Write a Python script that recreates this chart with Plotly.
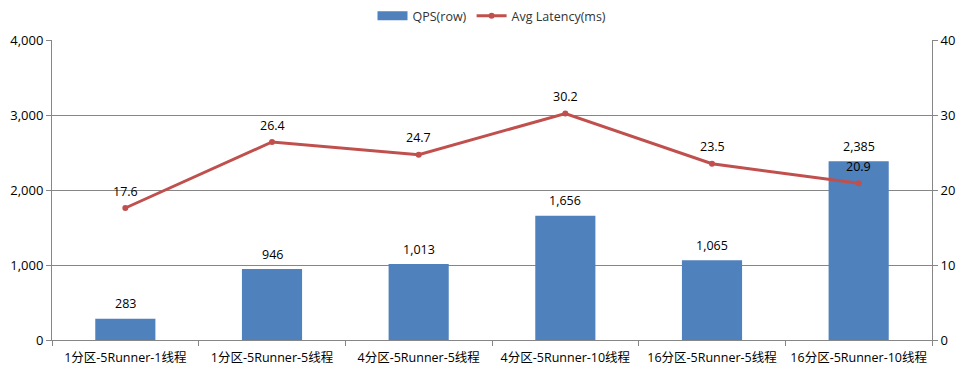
import plotly.graph_objects as go

categories = ["1分区-5Runner-1线程", "1分区-5Runner-5线程", "4分区-5Runner-5线程",
              "4分区-5Runner-10线程", "16分区-5Runner-5线程", "16分区-5Runner-10线程"]
qps = [283, 946, 1013, 1656, 1065, 2385]
latency = [17.6, 26.4, 24.7, 30.2, 23.5, 20.9]
left_ticks = [0, 1000, 2000, 3000, 4000]
right_ticks = [0, 10, 20, 30, 40]

font_family = "Open Sans, Noto Sans CJK SC, sans-serif"
bar_color = "#4F81BD"
line_color = "#C0504D"

fig = go.Figure()
fig.add_trace(go.Bar(
    x=categories, y=qps, name="QPS(row)", showlegend=False,
    marker=dict(color=bar_color, line=dict(width=0)),
))
# legend proxy for bar (wide rectangle swatch)
fig.add_trace(go.Scatter(
    x=[None], y=[None], name="QPS(row)", mode="lines",
    line=dict(color=bar_color, width=9),
))
fig.add_trace(go.Scatter(
    x=categories, y=latency, name="Avg Latency(ms)", yaxis="y2",
    mode="lines+markers",
    line=dict(color=line_color, width=3),
    marker=dict(color=line_color, size=6),
))

annotations = []
for c, v in zip(categories, qps):
    annotations.append(dict(x=c, y=v, xref="x", yref="y", text=f"{v:,}",
                            showarrow=False, yshift=15, yanchor="middle",
                            font=dict(size=12.5, color="#000000")))
for c, v in zip(categories, latency):
    annotations.append(dict(x=c, y=v, xref="x", yref="y2", text=f"{v}",
                            showarrow=False, yshift=17, yanchor="middle",
                            font=dict(size=12.5, color="#000000")))

fig.update_layout(
    width=979, height=374,
    margin=dict(l=44, r=55, t=32, b=42, autoexpand=False),
    paper_bgcolor="white", plot_bgcolor="white",
    font=dict(family=font_family, size=12.5, color="#000000"),
    bargap=0.59,
    showlegend=True,
    annotations=annotations,
    legend=dict(orientation="h", x=0.5, xanchor="center", y=1.03, yanchor="bottom",
                font=dict(size=12.5, color="#333333"), traceorder="normal"),
    xaxis=dict(
        type="category", showgrid=False, showline=True, linecolor="#868686", linewidth=1,
        ticks="outside", tickson="boundaries", ticklen=5, tickcolor="#868686",
        tickfont=dict(size=12.5, color="#000000"), automargin=False,
        ticklabelstandoff=6,
    ),
    yaxis=dict(
        range=[0, 4000], tickvals=left_ticks, tickformat=",",
        showgrid=True, gridcolor="#868686", gridwidth=1,
        showline=True, linecolor="#868686", linewidth=1,
        ticks="outside", ticklen=5, tickcolor="#868686",
        tickfont=dict(size=13, color="#000000"), zeroline=False, automargin=False,
    ),
    yaxis2=dict(
        range=[0, 40], tickvals=right_ticks, overlaying="y", side="right",
        showgrid=False, showline=True, linecolor="#868686", linewidth=1,
        ticks="outside", ticklen=5, tickcolor="#868686",
        tickfont=dict(size=13, color="#000000"), zeroline=False, automargin=False,
    ),
)

fig.write_html("out.html")
